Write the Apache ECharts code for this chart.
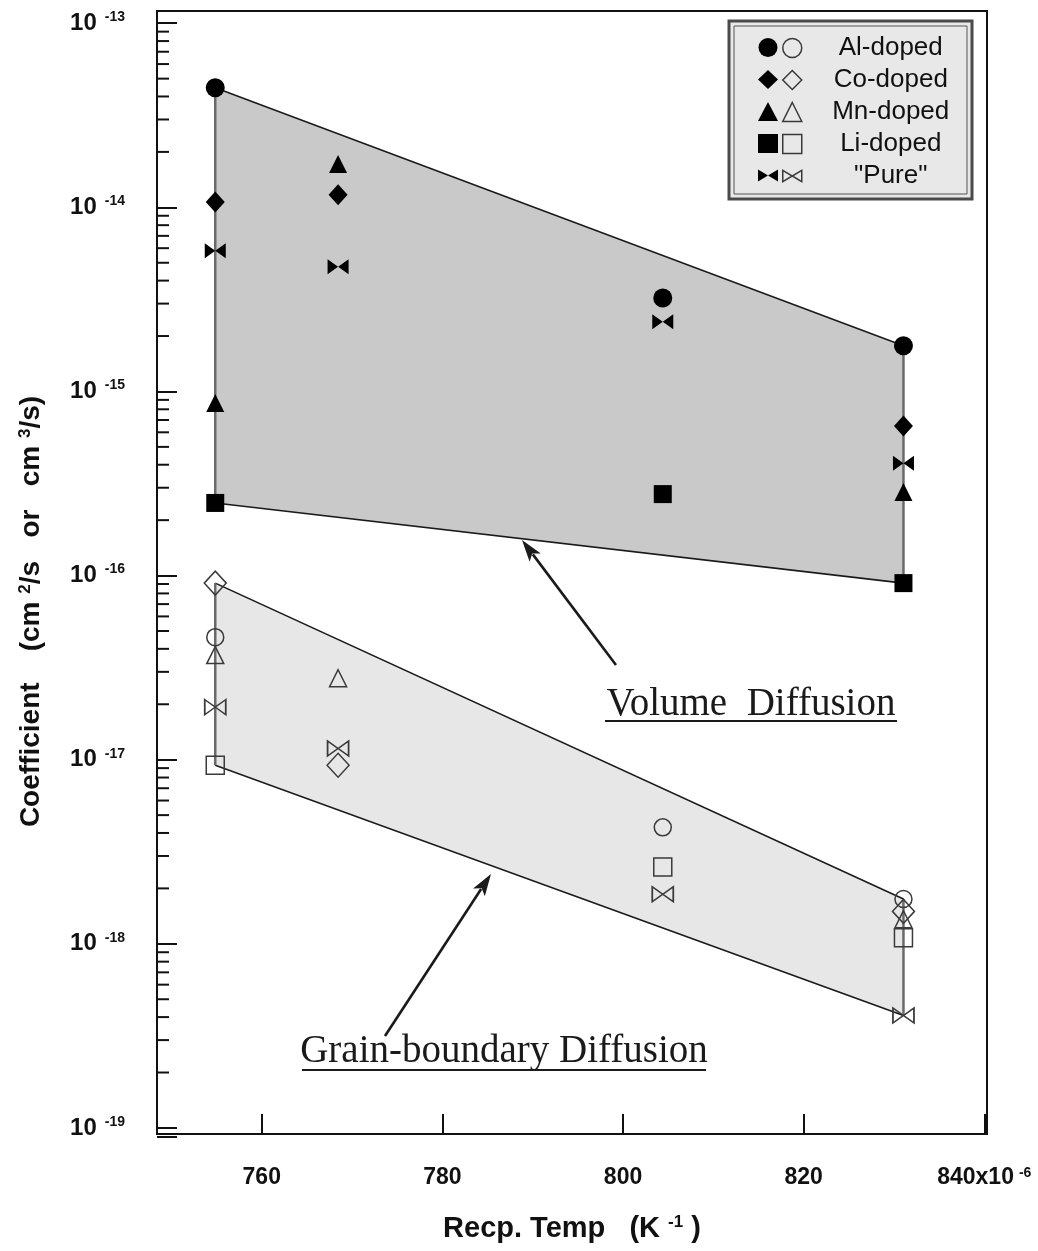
<!DOCTYPE html>
<html>
<head>
<meta charset="utf-8">
<script src="https://cdn.jsdelivr.net/npm/echarts@6/dist/echarts.min.js"></script>
<style>html,body{margin:0;padding:0;background:#fff;}#c{width:1038px;height:1251px;}</style>
</head>
<body>
<div id="c"></div>
<script>
// ---- data (x: reciprocal temperature, 1e-6 K^-1; y: diffusion coefficient) ----
const temps = [754.85, 768.45, 804.4, 831.05];
const xTickLabels = ['760', '780', '800', '820', '840x10'];
// volume diffusion (filled symbols)
const volAl   = [4.46e-14, null, 3.22e-15, 1.77e-15];
const volCo   = [1.07e-14, 1.17e-14, null, 6.49e-16];
const volMn   = [8.65e-16, 1.72e-14, null, 2.84e-16];
const volLi   = [2.48e-16, null, 2.77e-16, 9.1e-17];
const volPure = [5.81e-15, 4.75e-15, 2.39e-15, 4.08e-16];
// grain-boundary diffusion (open symbols)
const gbAl   = [4.63e-17, null, 4.29e-18, 1.75e-18];
const gbCo   = [9.1e-17, 9.33e-18, null, 1.50e-18];
const gbMn   = [3.70e-17, 2.77e-17, null, 1.36e-18];
const gbLi   = [9.33e-18, null, 2.61e-18, 1.08e-18];
const gbPure = [1.93e-17, 1.15e-17, 1.86e-18, 4.08e-19];
const dopants = ['Al-doped', 'Co-doped', 'Mn-doped', 'Li-doped', '"Pure"'];

const X_MIN = 748.4, X_MAX = 840.3;
const Y_MIN = 9.27e-20, Y_MAX = 1.165e-13;

const FONT = '"Liberation Sans", Arial, Helvetica, sans-serif';
const SERIF = '"Liberation Serif", "Times New Roman", serif';
const BOWTIE = 'path://M0,0L10,6L0,12ZM20,0L10,6L20,12Z';

const volSets = [volAl, volCo, volMn, volLi, volPure];
const gbSets = [gbAl, gbCo, gbMn, gbLi, gbPure];
const symbols = ['circle', 'diamond', 'triangle', 'rect', BOWTIE];
const filledSizes = [19, [19, 21], 18, 18, [21, 15]];
const openSizes = [17, [22, 24], 17, 18, [21, 15]];

function pairs(arr) {
  const out = [];
  arr.forEach((v, i) => { if (v !== null) out.push([temps[i], v]); });
  return out;
}
function colVals(sets, i) {
  return sets.map(s => s[i]).filter(v => v !== null);
}
function envelope(sets) {
  const a = colVals(sets, 0), b = colVals(sets, temps.length - 1);
  const x0 = temps[0], x1 = temps[temps.length - 1];
  return [[x0, Math.max(...a)], [x1, Math.max(...b)], [x1, Math.min(...b)], [x0, Math.min(...a)]];
}
const volEnv = envelope(volSets);
const gbEnv = envelope(gbSets);

// log-axis minor tick positions (axis decoration)
const minorTickValues = [];
for (let e = -20; e <= -13; e++) {
  for (let m = 2; m <= 9; m++) {
    const v = m * Math.pow(10, e);
    if (v > Y_MIN && v < Y_MAX) minorTickValues.push(v);
  }
}

function bandSeries(env, fill, z) {
  return {
    type: 'custom', z: z, silent: true, clip: false,
    data: env,
    encode: { x: 0, y: 1 },
    renderItem: function (params, api) {
      if (params.dataIndex !== 0) return null;
      const p = env.map(d => api.coord(d));
      return {
        type: 'group',
        children: [
          { type: 'polygon', shape: { points: p }, style: { fill: fill, stroke: null } },
          { type: 'line', shape: { x1: p[0][0], y1: p[0][1], x2: p[1][0], y2: p[1][1] }, style: { stroke: '#1a1a1a', lineWidth: 1.6 } },
          { type: 'line', shape: { x1: p[3][0], y1: p[3][1], x2: p[2][0], y2: p[2][1] }, style: { stroke: '#1a1a1a', lineWidth: 1.6 } },
          { type: 'line', shape: { x1: p[0][0], y1: p[0][1], x2: p[3][0], y2: p[3][1] }, style: { stroke: '#6a6a6a', lineWidth: 2.5 } },
          { type: 'line', shape: { x1: p[1][0], y1: p[1][1], x2: p[2][0], y2: p[2][1] }, style: { stroke: '#6a6a6a', lineWidth: 2.5 } }
        ]
      };
    }
  };
}

const series = [bandSeries(volEnv, '#c9c9c9', 1), bandSeries(gbEnv, '#e7e7e7', 1)];
dopants.forEach((d, i) => {
  series.push({
    name: d, type: 'scatter', z: 4,
    symbol: symbols[i], symbolSize: filledSizes[i],
    itemStyle: { color: '#000', opacity: 1 },
    data: pairs(volSets[i])
  });
});
dopants.forEach((d, i) => {
  series.push({
    name: d + ' GB', type: 'scatter', z: 4,
    symbol: symbols[i], symbolSize: openSizes[i],
    itemStyle: { color: 'rgba(0,0,0,0)', borderColor: '#3a3a3a', borderWidth: 1.5, opacity: 1 },
    data: pairs(gbSets[i])
  });
});
series.push({
  type: 'custom', z: 6, silent: true, clip: false,
  data: minorTickValues.map(v => [X_MIN, v]),
  encode: { x: 0, y: 1 },
  renderItem: function (params, api) {
    const p = api.coord([api.value(0), api.value(1)]);
    const x0 = params.coordSys.x;
    return { type: 'line', shape: { x1: x0, y1: p[1], x2: x0 + 12, y2: p[1] }, style: { stroke: '#111', lineWidth: 2 } };
  }
});

function arrow(x0, y0, x1, y1) {
  const dx = x1 - x0, dy = y1 - y0, L = Math.sqrt(dx * dx + dy * dy);
  const ux = dx / L, uy = dy / L, hl = 22, hw = 7;
  const bx = x1 - ux * hl, by = y1 - uy * hl;
  return [
    { type: 'line', shape: { x1: x0, y1: y0, x2: bx + ux * 4, y2: by + uy * 4 }, style: { stroke: '#1a1a1a', lineWidth: 2.6 } },
    { type: 'polygon', shape: { points: [[x1, y1], [bx - uy * hw, by + ux * hw], [bx + ux * 5, by + uy * 5], [bx + uy * hw, by - ux * hw]] }, style: { fill: '#1a1a1a' } }
  ];
}

const legendText = {};
dopants.forEach(d => { legendText[d + ' GB'] = d; });

const option = {
  backgroundColor: '#ffffff',
  animation: false,
  grid: { left: 157, top: 11, right: 51, bottom: 117, show: true, borderColor: '#111', borderWidth: 2, backgroundColor: 'rgba(0,0,0,0)', containLabel: false, outerBoundsMode: 'none' },
  xAxis: {
    type: 'value', min: X_MIN, max: X_MAX,
    name: '{t|Recp. Temp   (K }{s|-1}{t| )}',
    nameLocation: 'middle', nameGap: 80,
    nameTextStyle: {
      rich: {
        t: { fontSize: 29, fontWeight: 'bold', fontFamily: FONT, color: '#111' },
        s: { fontSize: 17, fontWeight: 'bold', fontFamily: FONT, color: '#111', verticalAlign: 'top' }
      }
    },
    axisLine: { show: true, onZero: false, lineStyle: { color: '#111', width: 2 } },
    axisTick: { show: true, inside: true, length: 20, lineStyle: { color: '#111', width: 2 } },
    splitLine: { show: false },
    axisLabel: {
      margin: 32,
      formatter: function (v) {
        const r = Math.round(v);
        if (Math.abs(v - r) > 1e-6 || r % 20 !== 0 || r < 760) return '';
        const lab = xTickLabels[(r - 760) / 20];
        if (r === 840) return '{b|' + lab + '}{s|-6}';
        return '{b|' + lab + '}';
      },
      rich: {
        b: { fontSize: 23, fontWeight: 'bold', fontFamily: FONT, color: '#111' },
        s: { fontSize: 14, fontWeight: 'bold', fontFamily: FONT, color: '#111', verticalAlign: 'top', padding: [0, 0, 0, 5] }
      }
    }
  },
  yAxis: {
    type: 'log', logBase: 10, min: Y_MIN, max: Y_MAX,
    name: '{t|Coefficient    (cm }{s|2}{t|/s   or   cm }{s|3}{t|/s)}',
    nameLocation: 'middle', nameGap: 112, nameRotate: 90,
    nameTextStyle: {
      padding: [0, 78, 0, 0],
      rich: {
        t: { fontSize: 28, fontWeight: 'bold', fontFamily: FONT, color: '#111' },
        s: { fontSize: 17, fontWeight: 'bold', fontFamily: FONT, color: '#111', verticalAlign: 'top' }
      }
    },
    axisLine: { show: true, lineStyle: { color: '#111', width: 2 } },
    axisTick: { show: true, inside: true, length: 20, lineStyle: { color: '#111', width: 2 } },
    splitLine: { show: false },
    axisLabel: {
      margin: 32,
      formatter: function (v) {
        const e = Math.log10(v), r = Math.round(e);
        if (Math.abs(e - r) > 1e-3) return '';
        return '{b|10}{s|' + r + '}';
      },
      rich: {
        b: { fontSize: 24, fontWeight: 'bold', fontFamily: FONT, color: '#111', lineHeight: 26 },
        s: { fontSize: 14, fontWeight: 'bold', fontFamily: FONT, color: '#111', verticalAlign: 'top', padding: [0, 0, 0, 8] }
      }
    }
  },
  legend: [
    {
      data: dopants, orient: 'vertical', left: 753, top: 33,
      itemWidth: 20, itemHeight: 19, itemGap: 13,
      formatter: function () { return ''; },
      selectedMode: false,
      textStyle: { fontSize: 1 }
    },
    {
      data: dopants.map(d => d + ' GB'), orient: 'vertical', left: 777, top: 30,
      itemWidth: 19, itemHeight: 19, itemGap: 6,
      selectedMode: false,
      itemStyle: { color: 'rgba(0,0,0,0)', borderColor: '#3a3a3a', borderWidth: 1.5 },
      formatter: function (n) { return '{c|' + legendText[n] + '}'; },
      textStyle: {
        rich: { c: { fontSize: 26, lineHeight: 26, fontFamily: FONT, color: '#111', width: 168, align: 'center' } }
      }
    }
  ],
  graphic: [
    { type: 'rect', shape: { x: 729, y: 21, width: 243, height: 178 }, style: { fill: '#e8e8e8', stroke: '#4a4a4a', lineWidth: 3 }, z: 0 },
    { type: 'rect', shape: { x: 734, y: 26, width: 233, height: 168 }, style: { fill: null, stroke: '#555', lineWidth: 1 }, z: 0 },
    { type: 'text', x: 751, y: 705, style: { text: 'Volume  Diffusion', font: '39px ' + SERIF, fill: '#1a1a1a', align: 'center', verticalAlign: 'middle' }, z: 0 },
    { type: 'line', shape: { x1: 605, y1: 721, x2: 897, y2: 721 }, style: { stroke: '#1a1a1a', lineWidth: 2 }, z: 0 },
    { type: 'text', x: 504, y: 1052, style: { text: 'Grain-boundary Diffusion', font: '39px ' + SERIF, fill: '#1a1a1a', align: 'center', verticalAlign: 'middle' }, z: 0 },
    { type: 'line', shape: { x1: 302, y1: 1070, x2: 706, y2: 1070 }, style: { stroke: '#1a1a1a', lineWidth: 2 }, z: 0 }
  ].concat(arrow(616, 665, 522, 540).map(e => Object.assign(e, { z: 0 })))
   .concat(arrow(385, 1036, 491, 874).map(e => Object.assign(e, { z: 0 }))),
  series: series
};

const chart = echarts.init(document.getElementById('c'), null, { renderer: 'canvas' });
chart.setOption(option);
</script>
</body>
</html>
